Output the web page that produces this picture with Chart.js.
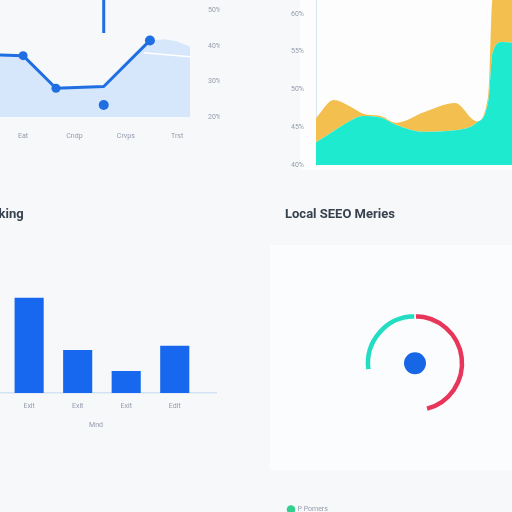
<!DOCTYPE html>
<html>
<head>
<meta charset="utf-8">
<script src="https://cdn.jsdelivr.net/npm/chart.js@4.4.0/dist/chart.umd.min.js"></script>
<style>
html, body { margin: 0; padding: 0; width: 512px; height: 512px; overflow: hidden; background: #f7f8fa; }
.box { position: absolute; }
</style>
</head>
<body>
<div class="box" style="left:300px;top:0;width:212px;height:170px;background:#fdfdfe"></div>
<div class="box" style="left:270px;top:245px;width:242px;height:225px;background:#fbfcfd"></div>
<div class="box" style="left:0;top:0;width:220px;height:150px"><canvas id="trend"></canvas></div>
<div class="box" style="left:256px;top:0;width:256px;height:175px"><canvas id="share"></canvas></div>
<div class="box" style="left:-24px;top:195px;width:250px;height:238px"><canvas id="rank"></canvas></div>
<div class="box" style="left:278px;top:195px;width:267px;height:328px"><canvas id="seo"></canvas></div>
<script>
// top left: traffic trend
var trendX = [0.55, 1.0, 1.64, 2.57, 3.47];
var trendY = [37.5, 37.3, 28.1, 28.6, 41.6];
var areaX = [0.55, 1.0, 1.64, 2.57, 3.47, 3.75, 4.0, 4.25];
var areaY = [37.5, 37.3, 28.1, 28.6, 41.6, 41.9, 41.3, 39.8];
var refX = [3.35, 4.25];
var refY = [38.1, 37.0];
var spikeX = [2.57, 2.57];
var spikeY = [53, 43.7];
var outlierX = [2.57];
var outlierY = [23.4];
var trendTicks = [1, 2, 3, 4];
var trendLabels = ['Eat', 'Cndp', 'Crvps', 'Trst'];
var trendPct = [20, 30, 40, 50];

// top right: share of visibility
var shareX = [0, 9, 17, 24, 33, 41, 55, 71, 82, 88, 90, 95, 100];
var tealShare = [43.0, 44.5, 45.8, 46.5, 46.3, 45.3, 44.4, 44.6, 45.6, 48.6, 54.8, 56.3, 56.2];
var goldShare = [3.2, 4.1, 2.0, 0.3, 0.2, 0.3, 2.6, 3.6, 0.2, 0.9, 7.2, 7.7, 7.8];
var sharePct = [40, 45, 50, 55, 60];

// bottom left: ranking
var rankX = [1, 2, 3, 4];
var rankLabels = ['Exit', 'Exit', 'Exit', 'Edit'];
var rankValues = [95, 43, 22, 47];

// bottom right: local seo metrics (degrees of the ring)
var seoLabels = ['Negative', '', 'P Pomers'];
var seoValues = [166, 96, 98];

function pts(xs, ys) {
    return xs.map(function (x, i) { return { x: x, y: ys[i] }; });
}

// drop the label half-height padding chart.js puts round an axis
function tightFit(size, value) {
    return function (s) {
        s[size] = value;
        s.paddingTop = 0; s.paddingBottom = 0;
        s.paddingLeft = 0; s.paddingRight = 0;
    };
}

var tickFont = { family: 'Roboto', size: 7 };
var tickColor = '#939cab';
Chart.defaults.animation = false;
Chart.defaults.plugins.tooltip.enabled = false;
Chart.defaults.font.family = 'Roboto';

new Chart(document.getElementById('trend'), {
    type: 'line',
    data: {
        datasets: [{
            data: pts(trendX, trendY),
            borderColor: '#1f6fe3',
            borderWidth: 3,
            borderJoinStyle: 'round',
            pointRadius: [0, 4.5, 4.5, 0, 5],
            pointBackgroundColor: '#1f6fe3',
            pointBorderWidth: 0,
            fill: false
        }, {
            data: pts(spikeX, spikeY),
            borderColor: '#1f6fe3',
            borderWidth: 3,
            pointRadius: 0,
            fill: false
        }, {
            data: pts(outlierX, outlierY),
            showLine: false,
            pointRadius: 5,
            pointBackgroundColor: '#1f6fe3',
            pointBorderWidth: 0
        }, {
            data: pts(refX, refY),
            borderColor: '#ffffff',
            borderWidth: 1.5,
            pointRadius: 0,
            fill: false
        }, {
            data: pts(areaX, areaY),
            borderWidth: 0,
            pointRadius: 0,
            backgroundColor: '#d6e6fb',
            fill: 'start'
        }]
    },
    options: {
        responsive: true,
        maintainAspectRatio: false,
        layout: { padding: 0, autoPadding: false },
        plugins: { legend: { display: false } },
        scales: {
            x: {
                type: 'linear', min: 0.55, max: 4.25,
                grid: { display: false, tickLength: 15 }, border: { display: false },
                afterBuildTicks: function (s) { s.ticks = trendTicks.map(function (v) { return { value: v }; }); },
                afterFit: tightFit('height', 33),
                ticks: { padding: 0, maxRotation: 0, font: tickFont, color: tickColor,
                    callback: function (v) { return trendLabels[trendTicks.indexOf(v)]; } }
            },
            y: {
                position: 'right', min: 20, max: 53,
                grid: { display: false, tickLength: 18 }, border: { display: false },
                afterBuildTicks: function (s) { s.ticks = trendPct.map(function (v) { return { value: v }; }); },
                afterFit: tightFit('width', 30),
                ticks: { padding: 0, font: tickFont, color: tickColor,
                    callback: function (v) { return v + '%'; } }
            }
        }
    }
});

new Chart(document.getElementById('share'), {
    type: 'line',
    data: {
        datasets: [{
            data: pts(shareX, tealShare),
            borderWidth: 0,
            pointRadius: 0,
            backgroundColor: '#1eead0',
            cubicInterpolationMode: 'monotone',
            fill: 'start'
        }, {
            data: pts(shareX, goldShare),
            borderWidth: 0,
            pointRadius: 0,
            backgroundColor: '#f3c04f',
            cubicInterpolationMode: 'monotone',
            fill: '-1'
        }]
    },
    options: {
        responsive: true,
        maintainAspectRatio: false,
        layout: { padding: { bottom: 10 }, autoPadding: false },
        plugins: { legend: { display: false } },
        scales: {
            x: { type: 'linear', min: 0, max: 100, display: false },
            y: {
                stacked: true, min: 40, max: 61.85,
                grid: { display: false, tickLength: 12 },
                border: { color: '#d5e7ef', width: 1 },
                afterBuildTicks: function (s) { s.ticks = sharePct.map(function (v) { return { value: v }; }); },
                afterFit: tightFit('width', 60),
                ticks: { padding: 0, font: tickFont, color: tickColor,
                    callback: function (v) { return v + '%'; } }
            }
        }
    }
});

// the title starts left of the window, so only "king" shows, as in the picture
new Chart(document.getElementById('rank'), {
    type: 'bar',
    data: {
        datasets: [{
            data: pts(rankX, rankValues),
            backgroundColor: '#1768ee',
            barPercentage: 0.6,
            categoryPercentage: 1
        }]
    },
    options: {
        responsive: true,
        maintainAspectRatio: false,
        layout: { padding: { left: 0, right: 10 } },
        plugins: {
            legend: { display: false },
            title: {
                display: true, text: 'Ranking', align: 'start', color: '#38424f',
                font: { family: 'Roboto', size: 13, weight: 'bold' },
                padding: { top: 12, bottom: 20 }
            }
        },
        scales: {
            x: {
                type: 'linear', min: -0.095, max: 4.85, offset: false,
                grid: { display: false, drawTicks: false },
                border: { color: '#d3e3f4', width: 1.5 },
                afterBuildTicks: function (s) { s.ticks = rankX.map(function (v) { return { value: v }; }); },
                afterFit: tightFit('height', 40),
                title: { display: true, text: 'Mnd', font: tickFont, color: tickColor, padding: { top: 12 } },
                ticks: { padding: 9, maxRotation: 0, font: tickFont, color: tickColor,
                    callback: function (v) { return rankLabels[rankX.indexOf(v)]; } }
            },
            y: { display: false, min: 0, max: 150 }
        }
    }
});

new Chart(document.getElementById('seo'), {
    type: 'doughnut',
    data: {
        labels: seoLabels,
        datasets: [{
            data: seoValues,
            backgroundColor: ['#e8365b', 'rgba(0,0,0,0)', '#22ddc2'],
            borderColor: '#fbfcfd',
            borderWidth: [1.5, 0, 1.5],
            weight: 6
        }, {
            data: [1],
            backgroundColor: 'rgba(0,0,0,0)',
            borderWidth: 0,
            weight: 33
        }, {
            data: [1],
            backgroundColor: '#1766e6',
            borderWidth: 0,
            weight: 11
        }]
    },
    options: {
        responsive: true,
        maintainAspectRatio: false,
        cutout: 0,
        radius: 50,
        layout: { padding: { left: 7, bottom: 0 } },
        plugins: {
            title: {
                display: true, text: 'Local SEEO Meries', align: 'start', color: '#38424f',
                font: { family: 'Roboto', size: 13, weight: 'bold' },
                padding: { top: 12, bottom: 1 }
            },
            legend: {
                position: 'bottom', align: 'start',
                labels: {
                    usePointStyle: true, pointStyle: 'circle', boxWidth: 6, boxHeight: 6, padding: 3,
                    font: tickFont, color: tickColor,
                    generateLabels: function (chart) {
                        return [{ text: seoLabels[2], fillStyle: '#31d08c', strokeStyle: '#31d08c', fontColor: tickColor,
                            lineWidth: 0, pointStyle: 'circle', datasetIndex: 0, index: 2 }];
                    }
                }
            }
        }
    }
});
</script>
</body>
</html>
